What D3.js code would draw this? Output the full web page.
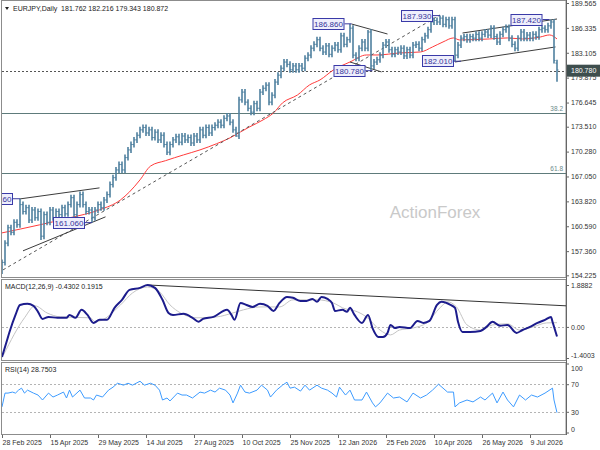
<!DOCTYPE html>
<html lang="en">
<head>
<meta charset="UTF-8">
<script src="https://d3js.org/d3.v7.min.js"></script>
<title>EURJPY Daily</title>
<style>
  body { margin: 0; background: #fff; }
  svg text { font-family: "Liberation Sans", Arial, sans-serif; }
</style>
</head>
<body>
<svg id="chart" width="600" height="450"></svg>
<script>
  // one close every 2 daily bars (bar index = 2 * k)
  const closes = [
    155.9, 158.4, 160.4, 159.8, 161.1, 160.8, 163.4, 162.5, 163.0, 161.4,
    162.7, 161.7, 162.5, 159.3, 162.1, 161.1, 162.7, 161.7, 162.5, 162.1,
    163.0, 162.2, 163.4, 164.3, 162.1, 163.4, 164.7, 163.4, 162.5, 162.7,
    161.7, 162.7, 163.4, 163.0, 164.0, 164.7, 166.0, 166.9, 167.9, 168.6,
    167.9, 169.5, 170.5, 171.2, 171.8, 172.4, 173.1, 173.4, 172.7, 173.1,
    172.1, 172.8, 171.8, 172.4, 171.2, 170.2, 171.2, 171.8, 172.2, 171.5,
    172.3, 171.8, 172.1, 171.4, 172.3, 171.8, 173.1, 172.4, 173.4, 172.7,
    173.4, 173.7, 174.1, 173.7, 174.6, 174.9, 174.1, 173.1, 172.3, 177.0,
    178.0, 176.7, 175.9, 175.4, 176.5, 175.9, 178.0, 178.5, 178.9, 176.7,
    177.6, 179.3, 180.2, 181.1, 181.9, 181.6, 180.9, 181.4, 180.9, 181.4,
    181.1, 182.4, 182.8, 183.7, 184.2, 184.8, 183.7, 183.2, 184.0, 182.9,
    183.7, 184.1, 183.5, 185.3, 184.2, 184.8, 186.3, 182.8, 182.4, 183.7,
    184.5, 183.7, 185.8, 181.4, 181.9, 182.2, 182.8, 184.1, 184.5, 183.5,
    182.9, 183.5, 183.2, 183.7, 182.7, 183.5, 182.8, 184.1, 184.2, 183.7,
    184.8, 185.3, 186.1, 187.1, 187.3, 187.1, 187.6, 186.8, 187.4, 186.6,
    187.4, 182.8, 184.1, 185.0, 185.2, 184.8, 185.2, 185.0, 185.5, 185.0,
    185.5, 185.8, 185.4, 186.3, 185.2, 184.5, 185.5, 186.1, 186.4, 185.0,
    184.2, 183.7, 185.0, 185.8, 185.0, 185.4, 185.0, 185.5, 185.2, 186.1,
    186.3, 186.1, 186.6, 187.1, 182.1
  ];
  const lastBar = [181.762, 182.216, 179.343, 180.872];
  const highMarks = [[6, 164.16], [116, 186.86], [122, 186.06], [146, 187.93], [183, 187.42]];
  const lowMarks = [[0, 154.4], [13, 158.8], [30, 161.06], [55, 169.85], [78, 172.2], [123, 180.78], [151, 182.01]];

  const maLine = [
    [0, 159.73], [25, 160.77], [45, 161.68], [65, 162.72], [79, 164.01], [85, 165.05],
    [92, 166.61], [99, 168.4], [109, 169.1], [121, 169.85], [132, 170.5], [143, 171.3],
    [152, 172.06], [159, 172.83], [165, 173.48], [174, 174.39], [181, 175.30], [187, 176.60],
    [197, 177.63], [205, 178.93], [212, 179.58], [221, 180.88], [232, 181.91], [243, 182.82],
    [250, 182.82], [265, 183.08], [279, 183.21], [287, 183.86], [294, 184.51], [301, 185.03],
    [305, 184.77], [325, 184.90], [337, 185.03], [347, 184.90], [359, 185.16], [365, 185.42],
    [370, 184.90]
  ];

  const dashedTrend = [[0.7, 154.93], [292, 188.01]];
  const solidTrends = [
    [[12, 164.14], [65, 165.57]],
    [[14, 157.4], [69, 161.81]],
    [[233, 186.84], [257, 185.54]],
    [[232, 181.91], [253, 180.62]],
    [[307, 185.67], [370, 187.49]],
    [[302, 181.91], [369, 183.86]]
  ];
  const priceLabels = [
    ['164.160', 12, 164.16], ['161.060', 60, 161.06], ['186.860', 233, 186.86],
    ['180.780', 247, 180.78], ['187.930', 292, 187.93], ['182.010', 306, 182.01],
    ['187.420', 365, 187.42]
  ];
  const supportLevel = 180.78;
  const fiboLevels = [[175.31, '38.2'], [167.52, '61.8']];

  const priceTicks = [189.565, 186.335, 183.105, 179.875, 176.645, 173.510, 170.280,
    167.050, 163.820, 160.590, 157.360, 154.225];
  const macdTicks = [1.8882, 0, -1.4003];
  const rsiTicks = [100, 70, 30, 0];
  const dateBars = [0, 32, 64, 96, 128, 160, 192, 224, 256, 288, 320, 352];
  const dateLabels = ['28 Feb 2025', '15 Apr 2025', '29 May 2025', '14 Jul 2025', '27 Aug 2025',
    '10 Oct 2025', '25 Nov 2025', '12 Jan 2026', '25 Feb 2026', '10 Apr 2026', '26 May 2026', '9 Jul 2026'];

  const macdLine = [
    [0, -1.35], [3, -0.68], [5, -0.23], [9, 0.54], [12, 0.99], [17, 1.04], [21, 0.95], [24, 0.68],
    [27, 0.36], [31, 0.45], [37, 0.41], [43, 0.41], [45, 0.54], [49, 0.41], [53, 0.77], [57, 0.54],
    [61, 0.18], [65, 0.32], [70, 0.32], [75, 0.86], [80, 1.22], [85, 1.67], [92, 1.76], [97, 1.89],
    [102, 1.76], [107, 1.22], [111, 0.63], [114, 0.54], [121, 0.59], [127, 0.41], [131, 0.23],
    [134, 0.36], [141, 0.45], [150, 0.77], [153, 0.54], [155, 0.32], [159, 1.08], [163, 0.99],
    [167, 0.90], [172, 1.04], [177, 0.95], [181, 0.72], [185, 1.08], [190, 1.35], [194, 1.31],
    [199, 1.17], [203, 1.17], [207, 1.26], [210, 1.13], [213, 1.35], [217, 1.26], [220, 1.08],
    [222, 0.72], [227, 0.77], [230, 0.68], [232, 0.86], [235, 0.54], [240, 0.18], [244, 0.54],
    [247, -0.05], [251, -0.45], [254, -0.45], [257, -0.27], [259, 0.09], [262, -0.05], [265, 0],
    [272, -0.05], [277, 0.27], [281, 0.18], [285, 0.27], [290, 0.99], [293, 1.13], [299, 0.99],
    [302, 0.86], [304, 0.23], [307, -0.23], [312, -0.23], [319, -0.18], [323, 0], [327, 0.23],
    [332, 0.05], [337, 0.09], [343, -0.27], [347, -0.14], [352, 0], [357, 0.18], [362, 0.32],
    [366, 0.45], [367, 0.23], [370, -0.4302]
  ];
  const signalLine = [
    [1, -1.26], [15, 0.41], [22, 0.95], [30, 0.63], [39, 0.45], [59, 0.41], [62, 0.23], [67, 0.32],
    [79, 0.99], [87, 1.53], [97, 1.80], [105, 1.58], [112, 0.99], [119, 0.63], [130, 0.41],
    [143, 0.45], [154, 0.63], [161, 0.77], [172, 0.90], [185, 0.90], [194, 1.22], [210, 1.22],
    [221, 1.08], [227, 0.86], [237, 0.68], [243, 0.45], [252, -0.14], [259, -0.36], [265, -0.14],
    [274, -0.05], [283, 0.18], [292, 0.86], [297, 1.13], [303, 0.90], [310, 0.09], [319, -0.14],
    [327, 0.09], [337, 0.14], [345, -0.14], [354, 0], [363, 0.18], [370, 0.1915]
  ];
  const macdTrend = [[97, 1.89], [376, 0.95]];

  const rsiLine = [
    [0, 37.1], [2, 57.1], [4, 57.1], [7, 58.6], [9, 57.1], [11, 61.4], [13, 64.3], [15, 57.1],
    [17, 61.4], [21, 57.1], [24, 54.3], [27, 47.1], [31, 57.1], [34, 51.4], [37, 54.3], [41, 58.6],
    [43, 50], [45, 61.4], [47, 51.4], [52, 61.4], [55, 50], [59, 50], [61, 47.1], [63, 54.3],
    [67, 51.4], [71, 61.4], [74, 65.7], [77, 71.4], [81, 68.6], [84, 71.4], [87, 68.6], [92, 74.3],
    [95, 68.6], [99, 71.4], [102, 68.6], [105, 61.4], [107, 47.1], [110, 50], [112, 45.7],
    [117, 57.1], [120, 54.3], [123, 54.3], [127, 50], [132, 58.6], [135, 57.1], [139, 61.4],
    [142, 58.6], [145, 64.3], [149, 61.4], [152, 54.3], [154, 42.9], [157, 57.1], [159, 68.6],
    [162, 58.6], [165, 57.1], [170, 61.4], [173, 68.6], [177, 61.4], [179, 51.4], [183, 61.4],
    [187, 68.6], [190, 72.9], [192, 64.3], [195, 65.7], [199, 60], [202, 68.6], [205, 61.4],
    [210, 68.6], [213, 64.3], [217, 61.4], [220, 57.1], [223, 51.4], [225, 65.7], [229, 54.3],
    [232, 61.4], [235, 47.1], [240, 47.1], [243, 58.6], [247, 42.9], [249, 37.1], [252, 42.9],
    [257, 57.1], [261, 50], [265, 51.4], [270, 44.3], [274, 57.1], [279, 50], [283, 54.3],
    [287, 61.4], [291, 70], [294, 64.3], [297, 58.6], [301, 58.6], [302, 37.1], [305, 42.9],
    [310, 47.1], [314, 44.3], [319, 51.4], [322, 47.1], [327, 57.1], [330, 42.9], [334, 58.6],
    [337, 47.1], [341, 37.1], [345, 54.3], [349, 47.1], [353, 54.3], [357, 51.4], [362, 57.1],
    [367, 64.3], [368, 47.1], [370, 28.7503]
  ];

  const svgEl = d3.select('#chart');
  const right = 566;

  const x = d3.scaleLinear().domain([0, 370]).range([2, 557]);
  const y = d3.scaleLinear().domain([154.225, 189.565]).range([275.3, 3]);
  const yMacd = d3.scaleLinear().domain([-1.4003, 1.8882]).range([358, 285]);
  const yRsi = d3.scaleLinear().domain([0, 100]).range([432.5, 363.5]);

  // panel frames and clips
  const panels = [['main', 0.5, 277.5], ['macd', 279.5, 360.5], ['rsi', 362.5, 434.5]];
  const defs = svgEl.append('defs');
  panels.forEach(([id, top, bottom]) => {
    defs.append('clipPath').attr('id', 'clip-' + id)
      .append('rect').attr('x', 2).attr('y', top).attr('width', right - 2).attr('height', bottom - top);
  });
  svgEl.selectAll('rect.frame')
    .data(panels)
    .enter()
    .append('rect')
    .attr('class', 'frame')
    .attr('x', 1.5).attr('y', d => d[1])
    .attr('width', right - 1.5).attr('height', d => d[2] - d[1])
    .attr('fill', 'none').attr('stroke', '#8c8c8c');

  const main = svgEl.append('g').attr('clip-path', 'url(#clip-main)');

  // watermark
  main.append('text')
    .attr('x', 435).attr('y', 218)
    .attr('text-anchor', 'middle')
    .attr('font-size', 17)
    .attr('fill', '#c9c9c9')
    .text('ActionForex');

  // fibo levels
  main.selectAll('line.fibo')
    .data(fiboLevels)
    .enter()
    .append('line')
    .attr('x1', 2).attr('x2', right)
    .attr('y1', d => Math.round(y(d[0])) + 0.5).attr('y2', d => Math.round(y(d[0])) + 0.5)
    .attr('stroke', '#5e7b7b').attr('stroke-width', 1);
  main.selectAll('text.fibo')
    .data(fiboLevels)
    .enter()
    .append('text')
    .attr('x', 563).attr('y', d => y(d[0]) - 2)
    .attr('text-anchor', 'end')
    .attr('font-size', 6.5)
    .attr('fill', '#6b8a8a')
    .text(d => d[1]);

  // support level
  main.append('line')
    .attr('x1', 2).attr('x2', right)
    .attr('y1', Math.round(y(supportLevel)) + 0.5).attr('y2', Math.round(y(supportLevel)) + 0.5)
    .attr('stroke', '#555').attr('stroke-dasharray', '2,2');

  // moving average
  const priceLine = d3.line().x(d => x(d[0])).y(d => y(d[1])).curve(d3.curveMonotoneX);
  main.append('path')
    .attr('d', priceLine(maLine))
    .attr('fill', 'none').attr('stroke', '#ff3b3b').attr('stroke-width', 1);

  // trend lines
  const straight = d3.line().x(d => x(d[0])).y(d => y(d[1]));
  main.append('path')
    .attr('d', straight(dashedTrend))
    .attr('fill', 'none').attr('stroke', '#555').attr('stroke-dasharray', '3,3');
  main.selectAll('path.trend')
    .data(solidTrends)
    .enter()
    .append('path')
    .attr('class', 'trend')
    .attr('d', d => straight(d))
    .attr('fill', 'none').attr('stroke', '#3c3c3c').attr('stroke-width', 1);

  // OHLC bars
  const bars = closes.map((c, k) => ({ bar: k * 2, o: k ? closes[k - 1] : c, c: c }));
  bars.push({ bar: 370, o: lastBar[0], h: lastBar[1], l: lastBar[2], c: lastBar[3], fixed: true });
  bars.forEach(b => {
    if (!b.fixed) { b.h = Math.max(b.o, b.c); b.l = Math.min(b.o, b.c); }
  });
  highMarks.forEach(([k, v]) => { bars[k].h = Math.max(bars[k].h, v); bars[k].hm = true; });
  lowMarks.forEach(([k, v]) => { bars[k].l = Math.min(bars[k].l, v); bars[k].lm = true; });

  const wickPad = 3;
  const barG = main.selectAll('g.bar')
    .data(bars)
    .enter()
    .append('g')
    .attr('class', 'bar')
    .attr('stroke', '#4f809f');
  barG.append('line')
    .attr('x1', d => x(d.bar)).attr('x2', d => x(d.bar))
    .attr('y1', d => y(d.h) - (d.hm || d.fixed ? 0 : wickPad))
    .attr('y2', d => y(d.l) + (d.lm || d.fixed ? 0 : wickPad))
    .attr('stroke-width', 1.6);
  barG.append('line')
    .attr('x1', d => x(d.bar) - 1.5).attr('x2', d => x(d.bar))
    .attr('y1', d => y(d.o)).attr('y2', d => y(d.o));
  barG.append('line')
    .attr('x1', d => x(d.bar)).attr('x2', d => x(d.bar) + 1.5)
    .attr('y1', d => y(d.c)).attr('y2', d => y(d.c));

  // price labels
  const labelG = main.selectAll('g.plabel')
    .data(priceLabels)
    .enter()
    .append('g')
    .attr('class', 'plabel');
  labelG.append('line')
    .attr('x1', d => x(d[1]) - 7).attr('x2', d => x(d[1]))
    .attr('y1', d => y(d[2])).attr('y2', d => y(d[2]))
    .attr('stroke', '#3a3a9e');
  labelG.append('rect')
    .attr('x', d => x(d[1]) - 38.5).attr('y', d => Math.round(y(d[2])) - 5.5)
    .attr('width', 31).attr('height', 11)
    .attr('fill', '#eeeefc').attr('stroke', '#3a3aa8');
  labelG.append('text')
    .attr('x', d => x(d[1]) - 23).attr('y', d => Math.round(y(d[2])) + 3.2)
    .attr('text-anchor', 'middle')
    .attr('font-size', 8)
    .attr('fill', '#34349a')
    .text(d => d[0]);

  // header
  svgEl.append('path').attr('d', 'M5,7 L9,7 L7,10 Z').attr('fill', '#222');
  svgEl.append('text')
    .attr('x', 13).attr('y', 10.5)
    .attr('font-size', 7)
    .attr('fill', '#222')
    .style('white-space', 'pre')
    .text('EURJPY,Daily  ' + lastBar.map(v => v.toFixed(3)).join(' '));

  // price axis
  const priceAxis = svgEl.append('g')
    .attr('transform', `translate(${right},0)`)
    .call(d3.axisRight(y).tickValues(priceTicks).tickSize(3).tickPadding(2).tickFormat(d => d.toFixed(3)));
  priceAxis.select('.domain').remove();
  priceAxis.selectAll('line').attr('stroke', '#666');
  priceAxis.selectAll('text').attr('font-size', 7).attr('fill', '#333').attr('font-family', '"Liberation Sans", Arial, sans-serif');

  // current support label on axis
  const supY = y(supportLevel);
  svgEl.append('rect')
    .attr('x', right + 1).attr('y', supY - 6).attr('width', 600 - right).attr('height', 12)
    .attr('fill', '#3e4e4e');
  svgEl.append('text')
    .attr('x', right + 5).attr('y', supY + 2.5)
    .attr('font-size', 7).attr('fill', '#fff')
    .text(supportLevel.toFixed(3));

  // MACD panel
  const macdG = svgEl.append('g').attr('clip-path', 'url(#clip-macd)');
  macdG.append('line')
    .attr('x1', 2).attr('x2', right)
    .attr('y1', Math.round(yMacd(0)) + 0.5).attr('y2', Math.round(yMacd(0)) + 0.5)
    .attr('stroke', '#b4b4b4').attr('stroke-dasharray', '2,2');
  const macdPath = d3.line().x(d => x(d[0])).y(d => yMacd(d[1])).curve(d3.curveMonotoneX);
  macdG.append('path')
    .attr('d', macdPath(signalLine))
    .attr('fill', 'none').attr('stroke', '#c4c4c4').attr('stroke-width', 1);
  macdG.append('path')
    .attr('d', d3.line().x(d => x(d[0])).y(d => yMacd(d[1]))(macdTrend))
    .attr('fill', 'none').attr('stroke', '#333').attr('stroke-width', 1);
  macdG.append('path')
    .attr('d', macdPath(macdLine))
    .attr('fill', 'none').attr('stroke', '#1c1c8c').attr('stroke-width', 2);
  svgEl.append('text')
    .attr('x', 5).attr('y', 289)
    .attr('font-size', 7).attr('fill', '#222')
    .text('MACD(12,26,9) -0.4302 0.1915');

  const macdAxis = svgEl.append('g')
    .attr('transform', `translate(${right},0)`)
    .call(d3.axisRight(yMacd).tickValues(macdTicks).tickSize(3).tickPadding(2)
      .tickFormat(d => d === 0 ? '0.00' : d.toFixed(4)));
  macdAxis.select('.domain').remove();
  macdAxis.selectAll('line').attr('stroke', '#666');
  macdAxis.selectAll('text').attr('font-size', 7).attr('fill', '#333')
    .attr('font-family', '"Liberation Sans", Arial, sans-serif')
    .attr('dy', d => d < 0 ? '-0.05em' : '0.32em');

  // RSI panel
  const rsiG = svgEl.append('g').attr('clip-path', 'url(#clip-rsi)');
  rsiG.selectAll('line.lvl')
    .data([70, 30])
    .enter()
    .append('line')
    .attr('x1', 2).attr('x2', right)
    .attr('y1', d => Math.round(yRsi(d)) + 0.5).attr('y2', d => Math.round(yRsi(d)) + 0.5)
    .attr('stroke', '#b4b4b4').attr('stroke-dasharray', '2,2');
  rsiG.append('path')
    .attr('d', d3.line().x(d => x(d[0])).y(d => yRsi(d[1]))(rsiLine))
    .attr('fill', 'none').attr('stroke', '#3d9bff').attr('stroke-width', 1);
  svgEl.append('text')
    .attr('x', 5).attr('y', 372)
    .attr('font-size', 7).attr('fill', '#222')
    .text('RSI(14) 28.7503');

  const rsiAxis = svgEl.append('g')
    .attr('transform', `translate(${right},0)`)
    .call(d3.axisRight(yRsi).tickValues(rsiTicks).tickSize(3).tickPadding(2));
  rsiAxis.select('.domain').remove();
  rsiAxis.selectAll('line').attr('stroke', '#666');
  rsiAxis.selectAll('text').attr('font-size', 7).attr('fill', '#333')
    .attr('font-family', '"Liberation Sans", Arial, sans-serif')
    .attr('dy', d => d === 100 ? '0.95em' : d === 0 ? '-0.2em' : '0.32em');

  // right axis line
  svgEl.append('line')
    .attr('x1', right + 0.5).attr('x2', right + 0.5).attr('y1', 0).attr('y2', 435)
    .attr('stroke', '#666');

  // date axis
  const dateAxis = svgEl.append('g')
    .attr('transform', 'translate(0,435)')
    .call(d3.axisBottom(x).tickValues(dateBars).tickSize(3).tickPadding(2)
      .tickFormat((d, i) => dateLabels[i]));
  dateAxis.select('.domain').remove();
  dateAxis.selectAll('line').attr('stroke', '#666');
  dateAxis.selectAll('text').attr('font-size', 7).attr('fill', '#333')
    .attr('font-family', '"Liberation Sans", Arial, sans-serif')
    .attr('text-anchor', 'start').attr('x', 0);
</script>
</body>
</html>
